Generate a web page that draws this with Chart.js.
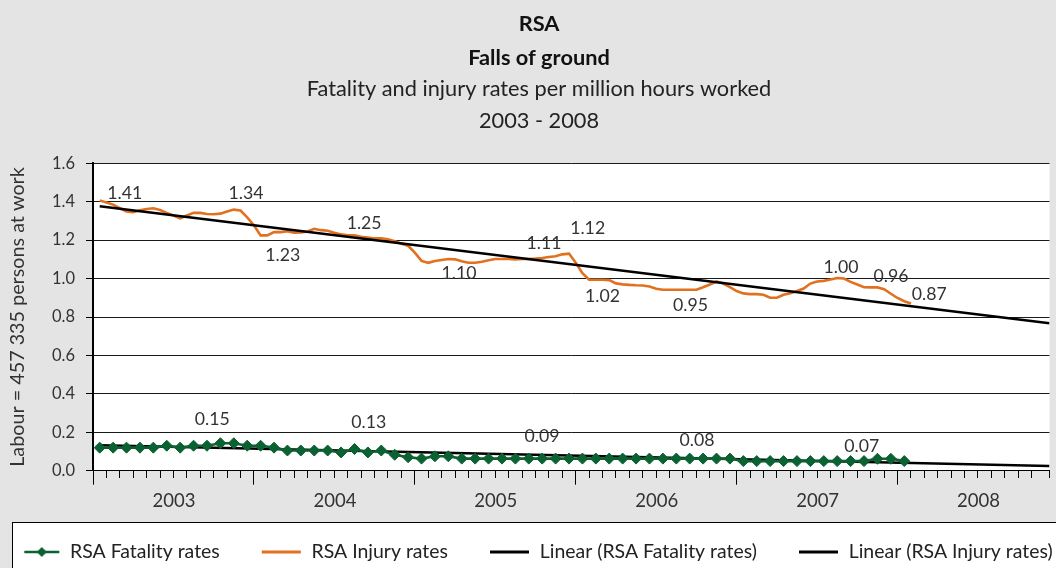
<!DOCTYPE html>
<html>
<head>
<meta charset="utf-8">
<script src="https://cdn.jsdelivr.net/npm/chart.js@4.4.1/dist/chart.umd.min.js"></script>
<style>
html,body{margin:0;padding:0;background:#e3e4e3;overflow:hidden}
canvas{display:block}
</style>
</head>
<body>
<canvas id="chart" width="1056" height="568"></canvas>
<script>
// ---------------- data ----------------
const yearLabels = ['2003', '2004', '2005', '2006', '2007', '2008'];

// monthly fatality rates, Jan 2003 .. Jan 2008
const fatalityRates = [
  0.12, 0.12, 0.12, 0.12, 0.12, 0.13, 0.12, 0.13, 0.13, 0.143, 0.143, 0.13,
  0.13, 0.12, 0.105, 0.105, 0.105, 0.105, 0.095, 0.113, 0.095, 0.105, 0.083, 0.07,
  0.063, 0.075, 0.075, 0.063, 0.063, 0.063, 0.063, 0.063, 0.063, 0.063, 0.063, 0.063,
  0.063, 0.063, 0.063, 0.063, 0.063, 0.063, 0.063, 0.063, 0.063, 0.063, 0.063, 0.063,
  0.05, 0.05, 0.05, 0.05, 0.05, 0.05, 0.05, 0.05, 0.05, 0.05, 0.062, 0.062,
  0.05
];

// half-monthly injury rates, mid Jan 2003 .. Jan 2008
const injuryRates = [
  1.407, 1.396, 1.385, 1.366, 1.349, 1.345, 1.355, 1.362, 1.366, 1.357,
  1.342, 1.328, 1.314, 1.328, 1.342, 1.342, 1.336, 1.335, 1.338, 1.349,
  1.359, 1.354, 1.319, 1.278, 1.225, 1.225, 1.242, 1.242, 1.247, 1.239,
  1.240, 1.245, 1.259, 1.252, 1.249, 1.239, 1.230, 1.225, 1.225, 1.218,
  1.214, 1.209, 1.209, 1.205, 1.195, 1.181, 1.171, 1.135, 1.092, 1.082,
  1.092, 1.097, 1.102, 1.100, 1.090, 1.082, 1.082, 1.088, 1.095, 1.102,
  1.102, 1.102, 1.100, 1.102, 1.102, 1.104, 1.107, 1.112, 1.116, 1.126,
  1.130, 1.083, 1.028, 0.994, 0.994, 0.994, 0.992, 0.975, 0.970, 0.967,
  0.965, 0.964, 0.959, 0.947, 0.942, 0.942, 0.942, 0.942, 0.942, 0.942,
  0.955, 0.969, 0.985, 0.974, 0.955, 0.935, 0.923, 0.919, 0.919, 0.916,
  0.900, 0.900, 0.916, 0.924, 0.935, 0.948, 0.974, 0.985, 0.988, 0.995,
  1.003, 1.000, 0.983, 0.969, 0.955, 0.954, 0.954, 0.945, 0.921, 0.899,
  0.882, 0.870
];

// linear trend lines (start / end values)
const trendMonths = [0.5, 71.33];
const fatalityTrend = [0.133, 0.025];
const injuryTrend = [1.376, 0.767];

// value notes written on the chart (month position, level, text)
const injuryNoteText  = ['1.41', '1.34', '1.23', '1.25', '1.10', '1.11', '1.12', '1.02', '0.95', '1.00', '0.96', '0.87'];
const injuryNoteMonth = [2.37, 11.41, 14.15, 20.22, 27.3, 33.63, 36.89, 38.0, 44.56, 55.78, 59.52, 62.37];
const injuryNoteLevel = [1.446, 1.446, 1.123, 1.289, 1.026, 1.185, 1.263, 0.909, 0.863, 1.06, 1.011, 0.92];
const fatalityNoteText  = ['0.15', '0.13', '0.09', '0.08', '0.07'];
const fatalityNoteMonth = [8.89, 20.56, 33.48, 45.04, 57.33];
const fatalityNoteLevel = [0.269, 0.254, 0.181, 0.16, 0.129];

const seriesLabels = ['RSA Fatality rates', 'RSA Injury rates', 'Linear (RSA Fatality rates)', 'Linear (RSA Injury rates)'];

// ---------------- styling ----------------
const FAMILY = 'Lato, "Noto Sans", sans-serif';
const GREEN = '#0b6131';
const ORANGE = '#e2711f';
const TEXT = '#333333';

const mctx = document.createElement('canvas').getContext('2d');
function fitSize(texts, target, weight) {
  mctx.font = (weight || 'normal') + ' 100px ' + FAMILY;
  const w = texts.reduce((s, t) => s + mctx.measureText(t).width, 0);
  return 100 * target / w;
}
const titleSize = fitSize(['Fatality and injury rates per million hours worked'], 465);
const yTitleSize = fitSize(['Labour = 457 335 persons at work'], 300);
const legendSize = fitSize(seriesLabels, 708);
const xTickSize = fitSize(['2003'], 43);
const yTickSize = fitSize(['1.6'], 23);
const noteSize = fitSize(['0.96'], 35);

const AREA_LEFT = 93, AREA_BOTTOM = 470.7, MONTH_PX = 13.5;
const axisEndMonth = (1056 - AREA_LEFT) / MONTH_PX;

const LEG_PAD = 2, ICON_GAP = 40, ICON_W = 80;
const legendFirstText = 70;
const legendStart = legendFirstText - ICON_W - legendSize / 2;
const PAD_L = legendStart - LEG_PAD;
const PAD_R = PAD_L - 22;

const legendTextY = 552;
const legendTop = legendTextY - LEG_PAD - legendSize / 2;
const legendH = legendSize + 8;
const padBottom = 568 - legendTop - legendH;
const xAxisHeight = legendTop - AREA_BOTTOM;
const xLine = xTickSize * 1.2;
const xTickPad = 501 - AREA_BOTTOM - 14 - xLine / 2;
const yTitleLine = yTitleSize * 1.2;
const yTitlePad = 18 - PAD_L - yTitleLine / 2;

function makeIcon(color, width, diamond) {
  const c = document.createElement('canvas');
  c.width = ICON_W; c.height = 14;
  const g = c.getContext('2d');
  g.strokeStyle = color; g.lineWidth = width;
  const x0 = diamond ? ICON_GAP + 4 : ICON_GAP, x1 = ICON_GAP + 39;
  g.beginPath(); g.moveTo(x0, 7); g.lineTo(x1, 7); g.stroke();
  if (diamond) {
    const cx = (x0 + x1) / 2;
    g.fillStyle = color;
    g.beginPath(); g.moveTo(cx, 2); g.lineTo(cx + 5, 7); g.lineTo(cx, 12); g.lineTo(cx - 5, 7); g.closePath(); g.fill();
  }
  return c;
}
const legendIcons = [makeIcon(GREEN, 2.5, true), makeIcon(ORANGE, 3, false), makeIcon('#000', 3, false), makeIcon('#000', 3, false)];

const panelPlugin = {
  id: 'panels',
  beforeDraw(chart) {
    const ctx = chart.ctx, a = chart.chartArea;
    ctx.save();
    ctx.fillStyle = '#ffffff';
    ctx.fillRect(a.left, a.top, a.right - a.left, a.bottom - a.top);
    const bx = 12.5, by = Math.round(legendTextY - 30) + 0.5;
    ctx.fillRect(bx, by, 1200, 100);
    ctx.strokeStyle = '#000'; ctx.lineWidth = 1;
    ctx.strokeRect(bx, by, 1200, 100);
    ctx.restore();
  }
};

const notesPlugin = {
  id: 'notes',
  afterDatasetsDraw(chart) {
    const ctx = chart.ctx, xs = chart.scales.x, ys = chart.scales.y;
    ctx.save();
    ctx.fillStyle = TEXT;
    ctx.font = noteSize + 'px ' + FAMILY;
    ctx.textAlign = 'center';
    ctx.textBaseline = 'middle';
    const draw = (texts, months, levels) => texts.forEach((t, i) =>
      ctx.fillText(t, xs.getPixelForValue(months[i]), ys.getPixelForValue(levels[i])));
    draw(injuryNoteText, injuryNoteMonth, injuryNoteLevel);
    draw(fatalityNoteText, fatalityNoteMonth, fatalityNoteLevel);
    ctx.restore();
  }
};

new Chart(document.getElementById('chart'), {
  type: 'line',
  data: {
    datasets: [
      {
        label: seriesLabels[0],
        data: fatalityRates.map((v, i) => ({ x: i + 0.5, y: v })),
        borderColor: GREEN, backgroundColor: GREEN, borderWidth: 2.6,
        pointStyle: 'rectRot', pointRadius: 5.5, pointBackgroundColor: GREEN,
        pointBorderColor: GREEN, pointBorderWidth: 1, tension: 0, order: 0
      },
      {
        label: seriesLabels[1],
        data: injuryRates.map((v, k) => ({ x: 0.5 + 0.5 * k, y: v })),
        borderColor: ORANGE, backgroundColor: ORANGE, borderWidth: 2.6,
        pointRadius: 0, tension: 0, order: 2
      },
      {
        label: seriesLabels[2],
        data: trendMonths.map((m, i) => ({ x: m, y: fatalityTrend[i] })),
        borderColor: '#000', backgroundColor: '#000', borderWidth: 2.5,
        pointRadius: 0, tension: 0, order: 1
      },
      {
        label: seriesLabels[3],
        data: trendMonths.map((m, i) => ({ x: m, y: injuryTrend[i] })),
        borderColor: '#000', backgroundColor: '#000', borderWidth: 2.5,
        pointRadius: 0, tension: 0, order: 1
      }
    ]
  },
  options: {
    responsive: false,
    animation: false,
    devicePixelRatio: 1,
    events: [],
    layout: { padding: { left: PAD_L, right: PAD_R, top: 0, bottom: padBottom } },
    scales: {
      x: {
        type: 'linear', min: 0, max: axisEndMonth,
        afterFit: s => { s.height = xAxisHeight; },
        grid: {
          display: true, drawOnChartArea: false, drawTicks: true, tickLength: 14,
          tickColor: '#000', tickWidth: 1,
          tickBorderDash: c => (c.tick && Math.abs(Math.round(c.tick.value) % 12) === 0 && Math.abs(c.tick.value - Math.round(c.tick.value)) < 1e-6) ? [] : [7, 40]
        },
        border: { display: true, color: '#000', width: 1 },
        ticks: {
          stepSize: 1, autoSkip: false, maxRotation: 0, minRotation: 0,
          labelOffset: 6 * MONTH_PX, padding: xTickPad, color: TEXT,
          font: { family: FAMILY, size: xTickSize, lineHeight: 1.2 },
          callback: v => {
            const r = Math.round(v);
            return (Math.abs(v - r) < 1e-6 && r % 12 === 0 && r / 12 < yearLabels.length) ? yearLabels[r / 12] : '';
          }
        }
      },
      y: {
        min: 0, max: 1.6,
        afterFit: s => { s.width = AREA_LEFT - PAD_L; },
        grid: { color: '#1a1a1a', lineWidth: 1, drawTicks: true, tickLength: 7, tickColor: '#000' },
        border: { display: true, color: '#000', width: 2 },
        ticks: {
          stepSize: 0.2, padding: 11, color: TEXT,
          font: { family: FAMILY, size: yTickSize },
          callback: v => Number(v).toFixed(1)
        },
        title: {
          display: true, text: 'Labour = 457 335 persons at work', color: TEXT,
          font: { family: FAMILY, size: yTitleSize, lineHeight: 1.2 },
          padding: { top: yTitlePad, bottom: 0 }
        }
      }
    },
    plugins: {
      tooltip: { enabled: false },
      title: {
        display: true, text: ['RSA', 'Falls of ground'], color: '#111',
        font: { family: FAMILY, size: titleSize, weight: 'bold', lineHeight: 34 / titleSize },
        padding: { top: 7, bottom: 0 }
      },
      subtitle: {
        display: true, text: ['Fatality and injury rates per million hours worked', '2003 - 2008'], color: '#222',
        font: { family: FAMILY, size: titleSize, weight: 'normal', lineHeight: 32 / titleSize },
        padding: { top: -2, bottom: 26.3 }
      },
      legend: {
        display: true, position: 'bottom', align: 'start', maxHeight: legendH,
        labels: {
          usePointStyle: true, pointStyleWidth: ICON_W, padding: LEG_PAD, color: '#222',
          font: { family: FAMILY, size: legendSize },
          sort: (a, b) => a.datasetIndex - b.datasetIndex,
          generateLabels(chart) {
            const items = Chart.defaults.plugins.legend.labels.generateLabels(chart);
            items.forEach(it => { it.pointStyle = legendIcons[it.datasetIndex]; });
            return items;
          }
        }
      }
    }
  },
  plugins: [panelPlugin, notesPlugin]
});
</script>
</body>
</html>
